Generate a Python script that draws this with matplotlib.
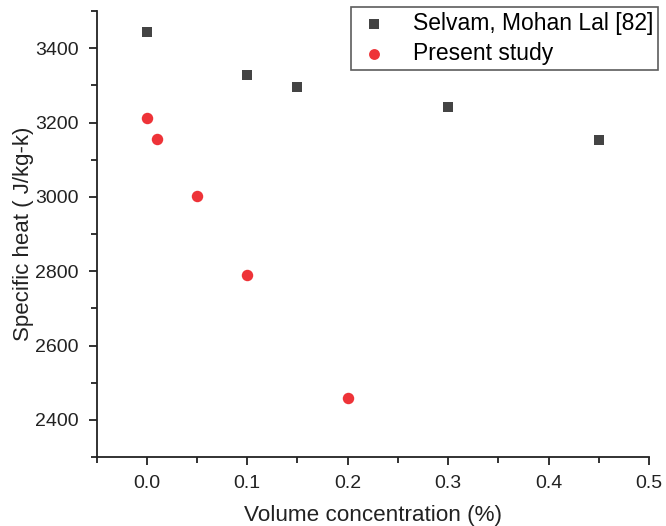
import numpy as np
import matplotlib
matplotlib.use("Agg")
import matplotlib.pyplot as plt
from matplotlib.ticker import MultipleLocator

plt.rcParams['font.family'] = ['Liberation Sans', 'DejaVu Sans']

# data
selvam_x = [0.0, 0.1, 0.15, 0.3, 0.45]
selvam_y = [3444, 3329, 3295, 3241, 3152]
present_x = [0.0, 0.01, 0.05, 0.1, 0.2]
present_y = [3211, 3155, 3002, 2789, 2460]

fig = plt.figure(figsize=(6.66, 5.26), dpi=100)
ax = fig.add_axes([0.145, 0.131, 0.8295, 0.848])

ax.scatter(selvam_x, selvam_y, marker='s', s=50, color='#444444',
           linewidths=0, label='Selvam, Mohan Lal [82]', zorder=3)
ax.scatter(present_x, present_y, marker='o', s=68, color='#ee3338',
           linewidths=0, label='Present study', zorder=3)

ax.set_xlim(-0.05, 0.5)
ax.set_ylim(2300, 3500)
ax.xaxis.set_major_locator(MultipleLocator(0.1))
ax.xaxis.set_minor_locator(MultipleLocator(0.05))
ax.yaxis.set_major_locator(MultipleLocator(200))
ax.yaxis.set_minor_locator(MultipleLocator(100))

for side in ['top', 'right']:
    ax.spines[side].set_visible(False)
for side in ['left', 'bottom']:
    ax.spines[side].set_linewidth(1.3)
    ax.spines[side].set_color('#222222')

ax.tick_params(which='major', direction='out', length=6, width=1.3,
               labelsize=14, colors='#222222', pad=7)
ax.tick_params(which='minor', direction='out', length=4, width=1.3,
               colors='#222222')
ax.set_xticks([0.0, 0.1, 0.2, 0.3, 0.4, 0.5])
ax.set_xticklabels(['0.0', '0.1', '0.2', '0.3', '0.4', '0.5'])

ax.set_xlabel('Volume concentration (%)', fontsize=16.2, color='#222222', labelpad=9)
ax.set_ylabel('Specific heat ( J/kg-k)', fontsize=16, color='#222222', labelpad=1)

leg = ax.legend(loc='upper left', bbox_to_anchor=(0.461, 1.008), fontsize=16.5,
                frameon=True, fancybox=False, edgecolor='#333333',
                borderaxespad=0, handletextpad=0.9, borderpad=0.2,
                labelspacing=0.3, handlelength=1.6, markerscale=0.95)
leg.get_frame().set_linewidth(1.2)
leg.set_clip_on(False)

fig.savefig('out.png', dpi=100)
